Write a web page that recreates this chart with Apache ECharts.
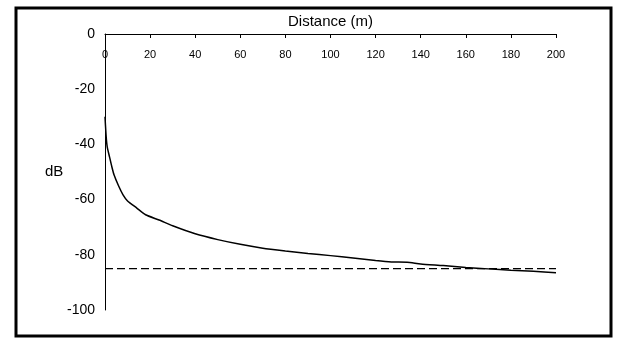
<!DOCTYPE html>
<html>
<head>
<meta charset="utf-8">
<script src="https://cdn.jsdelivr.net/npm/echarts@6/dist/echarts.min.js"></script>
<style>
  html, body { margin: 0; padding: 0; background: #fff; }
  #chart { width: 620px; height: 346px; }
</style>
</head>
<body>
<div id="chart"></div>
<script>
// Received level versus distance from the source
const distance = [0, 0.5, 1, 2, 3, 4, 6, 8, 10, 14, 18, 24, 30, 40, 50, 60, 70, 80, 90, 100, 110, 120, 127, 134, 140, 150, 160, 170, 180, 190, 200];
const level = [-30, -37, -41, -44.5, -48, -51, -55, -58.3, -60.5, -63, -65.5, -67.4, -69.5, -72.4, -74.5, -76.2, -77.6, -78.6, -79.5, -80.3, -81.2, -82.1, -82.6, -82.7, -83.3, -83.9, -84.6, -85.1, -85.6, -86.0, -86.5];

// Threshold reference level
const thresholdDistance = [0, 200];
const thresholdLevel = [-85, -85];

const xTicks = { min: 0, max: 200, step: 20 };
const yTicks = { min: -100, max: 0, step: 20 };

const chart = echarts.init(document.getElementById('chart'), null, { renderer: 'canvas' });

chart.setOption({
  animation: false,
  backgroundColor: '#fff',
  grid: { left: 105, right: 64, top: 34, bottom: 36, containLabel: false },
  xAxis: {
    type: 'value',
    position: 'top',
    min: xTicks.min, max: xTicks.max, interval: xTicks.step,
    name: 'Distance (m)',
    nameLocation: 'middle',
    nameGap: 2,
    nameTextStyle: { fontFamily: 'Liberation Sans', fontSize: 15, color: '#000' },
    axisLine: { show: true, lineStyle: { color: '#000', width: 1 } },
    axisTick: { show: true, inside: true, length: 4, lineStyle: { color: '#000' } },
    axisLabel: { inside: true, margin: 15, fontFamily: 'Liberation Sans', fontSize: 11, color: '#000' },
    splitLine: { show: false }
  },
  yAxis: {
    type: 'value',
    min: yTicks.min, max: yTicks.max, interval: yTicks.step,
    axisLine: { show: true, onZero: false, lineStyle: { color: '#000', width: 1 } },
    axisTick: { show: false },
    axisLabel: { margin: 10, fontFamily: 'Liberation Sans', fontSize: 14, color: '#000' },
    splitLine: { show: false }
  },
  graphic: [
    {
      type: 'rect',
      shape: { x: 16, y: 8, width: 595, height: 328 },
      style: { fill: 'none', stroke: '#000', lineWidth: 3 },
      silent: true
    },
    {
      type: 'text',
      left: 45, top: 164,
      style: { text: 'dB', font: '15px "Liberation Sans"', fill: '#000' }
    }
  ],
  series: [
    {
      type: 'line',
      data: distance.map((d, i) => [d, level[i]]),
      showSymbol: false,
      smooth: 0.2,
      lineStyle: { color: '#000', width: 1.5 }
    },
    {
      type: 'line',
      data: thresholdDistance.map((d, i) => [d, thresholdLevel[i]]),
      showSymbol: false,
      lineStyle: { color: '#000', width: 1.2, type: [8, 4] }
    }
  ]
});
</script>
</body>
</html>
